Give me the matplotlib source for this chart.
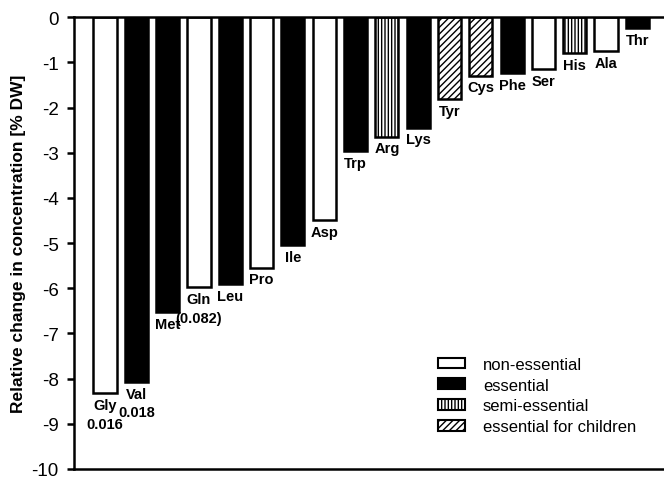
import matplotlib
matplotlib.use("Agg")
import matplotlib.pyplot as plt
from matplotlib.patches import Patch

plt.rcParams['font.family'] = ['Liberation Sans', 'DejaVu Sans']
plt.rcParams['hatch.linewidth'] = 1.0

amino = ["Gly", "Val", "Met", "Gln", "Leu", "Pro", "Ile", "Asp", "Trp", "Arg",
         "Lys", "Tyr", "Cys", "Phe", "Ser", "His", "Ala", "Thr"]
values = [-8.32, -8.07, -6.53, -5.97, -5.91, -5.54, -5.05, -4.48, -2.97, -2.64,
          -2.44, -1.81, -1.29, -1.23, -1.14, -0.79, -0.75, -0.24]
category = ["non", "ess", "ess", "non", "ess", "non", "ess", "non", "ess", "semi",
            "ess", "child", "child", "ess", "non", "semi", "non", "ess"]
extra = {"Gly": "0.016", "Val": "0.018", "Gln": "(0.082)"}
yticks = [0, -1, -2, -3, -4, -5, -6, -7, -8, -9, -10]

styles = {
    "non": dict(facecolor="white", hatch=None),
    "ess": dict(facecolor="black", hatch=None),
    "semi": dict(facecolor="white", hatch="|||||"),
    "child": dict(facecolor="white", hatch="/////"),
}
legend_names = [("non", "non-essential"), ("ess", "essential"),
                ("semi", "semi-essential"), ("child", "essential for children")]

fig = plt.figure(figsize=(6.64, 4.85), dpi=100)
ax = fig.add_axes([74/664, 1-470/485, 1-74/664, (470-18.3)/485])

x = list(range(len(amino)))
for xi, v, c in zip(x, values, category):
    st = styles[c]
    ax.bar(xi, v, width=0.74, facecolor=st["facecolor"], edgecolor="black",
           linewidth=1.8, hatch=st["hatch"], zorder=2)

for xi, v, name in zip(x, values, amino):
    ax.annotate(name, (xi, v), xytext=(0, -3.5), textcoords="offset points",
                ha="center", va="top", fontsize=10.5, fontweight="bold")
    if name in extra:
        ax.annotate(extra[name], (xi, v), xytext=(0, -17), textcoords="offset points",
                    ha="center", va="top", fontsize=10.5, fontweight="bold")

ax.set_xlim(-0.99, 17.85)
ax.set_ylim(-10, 0)
ax.set_yticks(yticks)
ax.set_yticklabels([str(t) for t in yticks], fontsize=13.5)
ax.set_xticks([])
ax.spines["right"].set_visible(False)
for s in ["left", "top", "bottom"]:
    ax.spines[s].set_linewidth(1.8)
ax.tick_params(axis="y", direction="out", length=5, width=1.8, pad=6)
ax.set_ylabel("Relative change in concentration [% DW]", fontsize=12.5,
              fontweight="bold", labelpad=4)

handles = [Patch(facecolor=styles[k]["facecolor"], edgecolor="black", linewidth=1.5,
                 hatch=styles[k]["hatch"], label=lab) for k, lab in legend_names]
ax.legend(handles=handles, loc="lower left", bbox_to_anchor=(0.597, 0.051),
          frameon=False, fontsize=12, handlelength=1.6, handleheight=0.6,
          labelspacing=0.35, handletextpad=1.1, borderpad=0.2)

fig.savefig("out.png", dpi=100)
